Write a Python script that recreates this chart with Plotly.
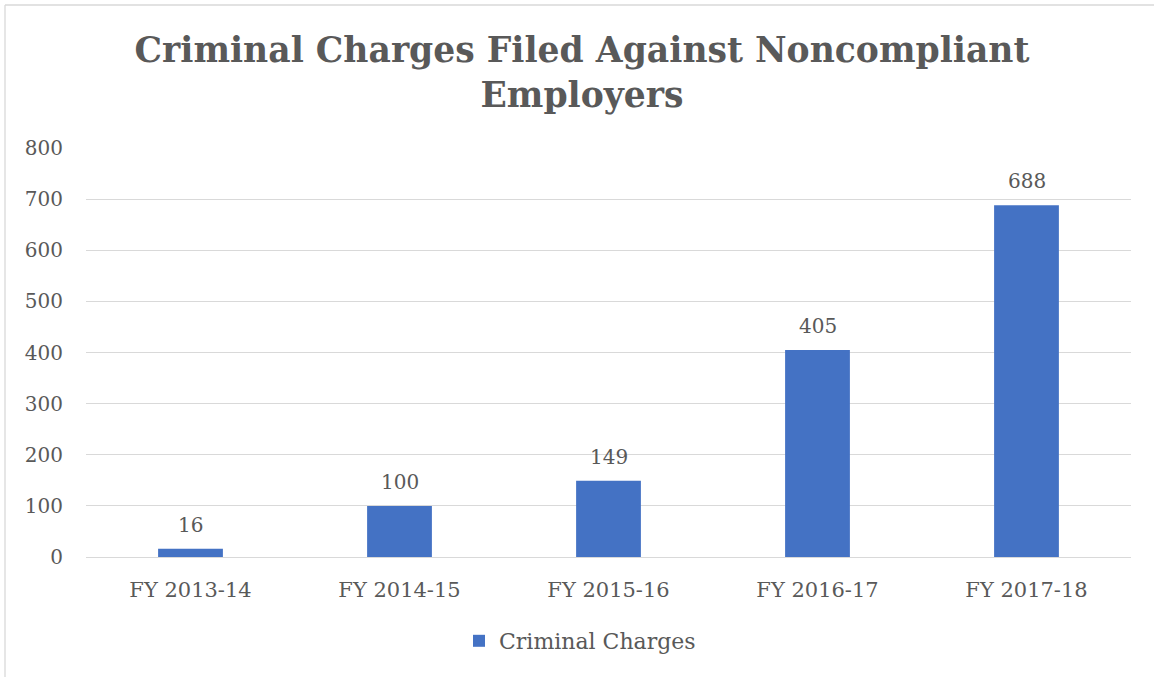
import plotly.graph_objects as go

categories = ["FY 2013-14", "FY 2014-15", "FY 2015-16", "FY 2016-17", "FY 2017-18"]
criminal_charges = [16, 100, 149, 405, 688]
series_name = "Criminal Charges"
title_text = "Criminal Charges Filed Against Noncompliant<br>Employers"
y_ticks = [0, 100, 200, 300, 400, 500, 600, 700, 800]

W, H = 1154, 677
L, R, T, B = 86, 23, 148, 120
pw, ph = W - L - R, H - T - B

def px_x(x):
    return (x - L) / pw

def px_y(y):
    return (H - B - y) / ph

FONT = "DejaVu Serif"
TXT = "#595959"
GRID = "#d9d9d9"

fig = go.Figure()
fig.add_trace(go.Bar(
    x=categories, y=criminal_charges, name=series_name,
    marker=dict(color="#4472C4", line=dict(width=0)),
))

for cat, val in zip(categories, criminal_charges):
    fig.add_annotation(x=cat, y=val, xref="x", yref="y", text=str(val), showarrow=False,
                       yanchor="bottom", yshift=10,
                       font=dict(family=FONT, size=20, color=TXT))

fig.update_layout(
    width=W, height=H,
    margin=dict(l=L, r=R, t=T, b=B),
    paper_bgcolor="white", plot_bgcolor="white",
    bargap=0.69,
    title=dict(text=title_text, x=582 / W, xanchor="center", xref="container",
               y=1 - 62 / H, yanchor="top", yref="container",
               font=dict(family=FONT, size=34.6, color=TXT, weight="bold")),
    showlegend=True,
    legend=dict(orientation="h", x=px_x(580), xanchor="center", y=px_y(641), yanchor="middle",
                font=dict(family=FONT, size=22, color=TXT), bgcolor="rgba(0,0,0,0)"),
    xaxis=dict(showgrid=False, showline=False, ticks="", ticklabelstandoff=18,
               tickfont=dict(family=FONT, size=21, color=TXT)),
    yaxis=dict(range=[0, 800], tickvals=y_ticks, showgrid=True, gridcolor=GRID, gridwidth=1.3,
               zeroline=True, zerolinecolor=GRID, zerolinewidth=1.3, showline=False, ticks="",
               ticklabelstandoff=22, tickfont=dict(family=FONT, size=20, color=TXT)),
    shapes=[
        dict(type="line", xref="paper", yref="paper", x0=px_x(5), x1=px_x(W + 5), y0=px_y(5), y1=px_y(5),
             line=dict(color=GRID, width=1.3)),
        dict(type="line", xref="paper", yref="paper", x0=px_x(5), x1=px_x(5), y0=px_y(5), y1=px_y(H + 5),
             line=dict(color=GRID, width=1.3)),
    ],
)

fig.write_html("out.html", config={"displayModeBar": False},
               post_script="document.body.style.margin='0';document.body.style.overflow='hidden';")
